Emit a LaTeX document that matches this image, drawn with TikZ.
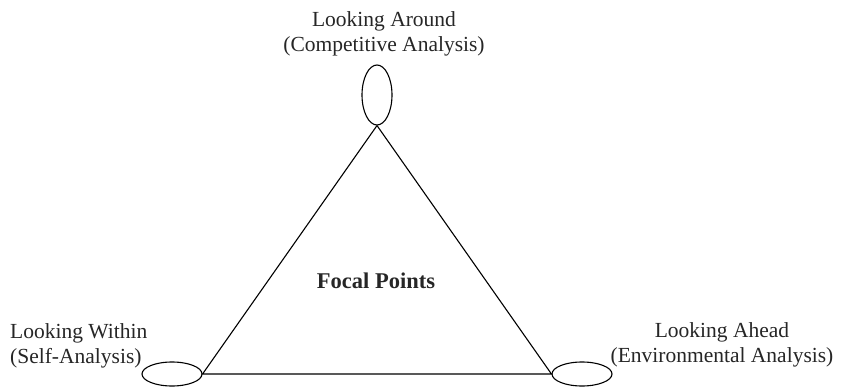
\documentclass[tikz,border=0pt]{standalone}
\usepackage{fontspec}
\setmainfont{Liberation Serif}
\usetikzlibrary{shapes.geometric}
\begin{document}
\begin{tikzpicture}[x=1pt,y=-1pt,
  oval/.style={draw,ellipse,inner sep=0pt,line width=1.1pt},
  lbl/.style={font=\fontsize{21.5}{24.5}\selectfont,inner sep=0pt,text=black!85},
  edge/.style={line width=1.1pt}]
\useasboundingbox (0,0) rectangle (847,388);
\node[oval,minimum width=30pt,minimum height=60pt] (top) at (377,95) {};
\node[oval,minimum width=60pt,minimum height=24pt] (lft) at (172,374) {};
\node[oval,minimum width=60pt,minimum height=24pt] (rgt) at (582,374) {};
\draw[edge] (top.south) -- (lft.east) -- (rgt.west) -- (top.south);
\node[lbl,align=center,anchor=base] (tl) at (384,51) {Looking Around\\(Competitive Analysis)};
\node[lbl,align=left,anchor=base west] (ll) at (10,363) {Looking Within\\(Self-Analysis)};
\node[lbl,align=center,anchor=base] (rl) at (722,362) {Looking Ahead\\(Environmental Analysis)};
\node[font=\fontsize{22.5}{26}\selectfont\bfseries,inner sep=0pt,anchor=base,text=black!85] (fp) at (376,288) {Focal Points};
\end{tikzpicture}
\end{document}
